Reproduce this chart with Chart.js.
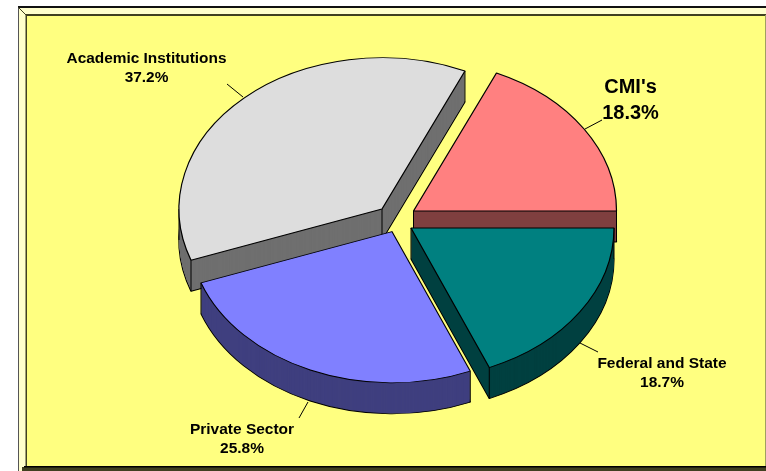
<!DOCTYPE html>
<html>
<head>
<meta charset="utf-8">
<style>html,body{margin:0;padding:0;background:#fff;overflow:hidden}canvas{display:block}</style>
<script src="https://cdn.jsdelivr.net/npm/chart.js@4"></script>
</head>
<body>
<canvas id="c" width="766" height="471"></canvas>
<script>
const categories = ["CMI's", "Federal and State", "Private Sector", "Academic Institutions"];
const shares = [18.3, 18.7, 25.8, 37.2];
const topColors = ['#FF8080', '#008080', '#8080FF', '#DDDDDD'];
const wallColors = ['#7F3F3F', '#004040', '#3F3F7F', '#6F6F6F'];

// layout of the tilted, exploded pie
const tilt = 0.745, depth = 31, pieRadius = 203;
const explode = [[15.5, -10], [13, 7], [-6, 10.6], [-16, -12]];
const paintOrder = [3, 0, 2, 1];
const labelLayout = [
  {x: 630.5, y1: 87, y2: 113, size: 20, lead: [602, 120, 585, 129]},
  {x: 662, y1: 364, y2: 383, size: 15.5, lead: [598, 352, 580, 343]},
  {x: 242, y1: 430, y2: 449, size: 15.5, lead: [299, 418, 308, 402]},
  {x: 146.5, y1: 59, y2: 78, size: 15.4, lead: [227, 84, 243, 97]}
];

const framePlugin = {
  id: 'frame',
  beforeDraw(chart) {
    const c = chart.ctx;
    c.save();
    c.fillStyle = '#FFFFCC';
    c.fillRect(18, 7, 748, 464);
    c.fillStyle = '#404020';
    c.fillRect(22, 467, 744, 4);
    c.fillStyle = '#FFFF80';
    c.fillRect(26, 15, 739, 452);
    c.fillStyle = '#555555';
    c.fillRect(18, 7, 1, 464);
    c.fillStyle = '#111111';
    c.fillRect(18, 6, 748, 2);
    c.fillStyle = '#404020';
    c.fillRect(26, 14, 740, 2);
    c.fillRect(25.5, 14, 1.5, 453);
    c.fillStyle = '#A0A060';
    c.fillRect(765, 15, 1, 452);
    c.fillStyle = '#000';
    c.fillRect(24, 466, 742, 1.5);
    c.strokeStyle = '#404020';
    c.lineWidth = 1;
    c.beginPath();
    c.moveTo(18.5, 7.5); c.lineTo(26.5, 15.5);
    c.stroke();
    c.restore();
  }
};

const pie3dPlugin = {
  id: 'pie3d',
  beforeDatasetDraw(chart, args) {
    const c = chart.ctx;
    const arcs = args.meta.data;
    function place(arc, i, dy) {
      c.translate(arc.x + explode[i][0], arc.y + explode[i][1] + dy);
      c.scale(1, tilt);
      c.translate(-arc.x, -arc.y);
    }
    function paint(arc, i, dy, fill, border, width) {
      const saved = arc.options;
      arc.options = Object.assign({}, saved, {backgroundColor: fill, borderColor: border, borderWidth: width});
      c.save();
      place(arc, i, dy);
      arc.draw(c);
      c.restore();
      arc.options = saved;
    }
    paintOrder.forEach(i => {
      const arc = arcs[i];
      paint(arc, i, depth, wallColors[i], '#000', 1.2);
      for (let d = depth - 1; d > 0; d--) paint(arc, i, d, wallColors[i], wallColors[i], 0);
      // vertical edges of the wall
      const ax = arc.x + explode[i][0], ay = arc.y + explode[i][1];
      const corners = [[ax, ay]];
      const angles = [arc.startAngle, arc.endAngle];
      if (arc.startAngle < Math.PI && arc.endAngle > Math.PI) angles.push(Math.PI);
      angles.forEach(a => corners.push([ax + arc.outerRadius * Math.cos(a), ay + tilt * arc.outerRadius * Math.sin(a)]));
      c.save();
      c.strokeStyle = '#000';
      c.lineWidth = 1;
      c.beginPath();
      corners.forEach(p => { c.moveTo(p[0], p[1]); c.lineTo(p[0], p[1] + depth); });
      c.stroke();
      c.restore();
      paint(arc, i, 0, topColors[i], '#000', 1.2);
    });
    return false;
  },
  afterDraw(chart) {
    const c = chart.ctx;
    c.save();
    c.fillStyle = '#000';
    c.strokeStyle = '#000';
    c.lineWidth = 1;
    c.textAlign = 'center';
    c.textBaseline = 'middle';
    categories.forEach((name, i) => {
      const l = labelLayout[i];
      c.font = 'bold ' + l.size + 'px "Liberation Sans", Arial, sans-serif';
      c.fillText(name, l.x, l.y1);
      c.fillText(shares[i].toFixed(1) + '%', l.x, l.y2);
      c.beginPath();
      c.moveTo(l.lead[0], l.lead[1]);
      c.lineTo(l.lead[2], l.lead[3]);
      c.stroke();
    });
    c.restore();
  }
};

new Chart(document.getElementById('c'), {
  type: 'pie',
  data: {
    labels: categories,
    datasets: [{data: shares, backgroundColor: topColors, borderColor: '#000', borderWidth: 1.2, radius: pieRadius, offset: 0}]
  },
  options: {
    responsive: false,
    animation: false,
    rotation: 90 - 360 * shares[0] / 100,
    layout: {padding: {left: 30, bottom: 29}},
    plugins: {legend: {display: false}, tooltip: {enabled: false}}
  },
  plugins: [framePlugin, pie3dPlugin]
});
</script>
</body>
</html>
